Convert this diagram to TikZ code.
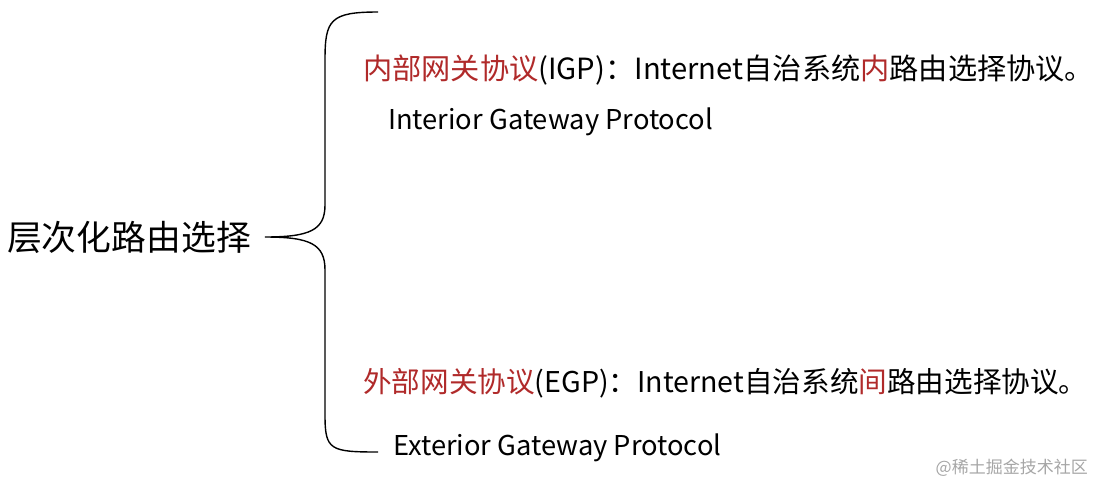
\documentclass[tikz,border=0pt]{standalone}
\usepackage{fontspec}
\setmainfont{Noto Sans CJK SC}
\definecolor{dred}{HTML}{B02A2A}
\begin{document}
\begin{tikzpicture}[x=1pt,y=-1pt,
  txt/.style={anchor=west,inner sep=0pt,font=\fontsize{29.2}{32}\selectfont},
  sub/.style={anchor=west,inner sep=0pt,font=\fontsize{27.3}{30}\selectfont}]
\useasboundingbox (0,0) rectangle (1100,496);
\draw[line width=1.4pt] (378,12) .. controls (330,12) and (325,20) .. (325,60)
  -- (325,205) .. controls (325,230) and (310,237) .. (265,237)
  .. controls (310,237) and (325,244) .. (325,270)
  -- (325,415) .. controls (325,450) and (330,452) .. (378,452);
\node[anchor=west,inner sep=0pt,font=\fontsize{34.8}{38}\selectfont] (root) at (7,237) {层次化路由选择};
\node[txt] (igp) at (363,70) {\textcolor{dred}{内部网关协议}(IGP)：Internet自治系统\textcolor{dred}{内}路由选择协议。};
\node[sub] (igpe) at (388,122) {Interior Gateway Protocol};
\node[txt,font=\fontsize{28.6}{32}\selectfont] (egp) at (363,383) {\textcolor{dred}{外部网关协议}(EGP)：Internet自治系统\textcolor{dred}{间}路由选择协议。};
\node[sub] (egpe) at (393,448) {Exterior Gateway Protocol};
\node[anchor=east,inner sep=0pt,text=black!35,font=\fontsize{17}{20}\selectfont] (wm) at (1088,468) {@稀土掘金技术社区};
\end{tikzpicture}
\end{document}
